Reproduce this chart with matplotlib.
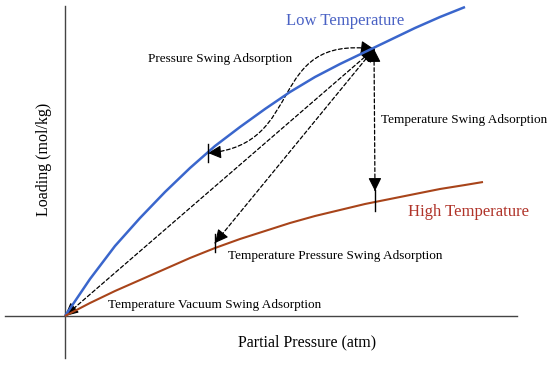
import matplotlib
matplotlib.use("Agg")
import numpy as np
import matplotlib.pyplot as plt
from matplotlib.patches import FancyArrowPatch
from matplotlib.path import Path

# ---- data (schematic isotherms) ----
low_x = [0, 25, 50, 75, 100, 125, 150, 175, 200, 225, 250, 275, 300, 325, 350, 375, 400]
low_y = [0, 37, 70, 98, 124, 148, 170, 189, 207, 224, 239, 252, 264, 276, 288, 299, 309]
high_x = [0, 25, 50, 75, 100, 125, 150, 175, 200, 225, 250, 275, 300, 325, 350, 375, 400, 418]
high_y = [0, 13, 25, 36, 47, 58, 68, 77, 85, 93, 100, 106, 112, 117, 122, 127, 131, 134]

# key states
A = (309, 267)   # low T, high P (adsorption)
B = (143, 163)   # PSA regeneration
C = (150, 73)    # TPSA regeneration
D = (310, 125)   # TSA regeneration
O = (0, 0)       # TVSA regeneration

labels = {
    "low": "Low Temperature",
    "high": "High Temperature",
    "psa": "Pressure Swing Adsorption",
    "tsa": "Temperature Swing Adsorption",
    "tpsa": "Temperature Pressure Swing Adsorption",
    "tvsa": "Temperature Vacuum Swing Adsorption",
    "x": "Partial Pressure (atm)",
    "y": "Loading (mol/kg)",
}

plt.rcParams['font.family'] = ['Liberation Serif', 'DejaVu Serif']

fig = plt.figure(figsize=(5.5, 3.72), dpi=100)
ax = fig.add_axes([0, 0, 1, 1])
ax.set_xlim(-65, 485)
ax.set_ylim(-56, 316)
ax.axis('off')

# axes lines
ax.plot([0, 0], [-42, 310], color='#444444', lw=1.0)
ax.plot([-60, 452], [0, 0], color='#444444', lw=1.0)

# isotherms
ax.plot(low_x, low_y, color='#3a66cc', lw=1.8, solid_capstyle='butt', solid_joinstyle='round')
ax.plot(high_x, high_y, color='#a8441a', lw=1.5, solid_capstyle='butt', solid_joinstyle='round')

# ticks at regeneration points
for (px, py) in [B, C]:
    ax.plot([px, px], [py - 9, py + 9], color='black', lw=1.0)
ax.plot([D[0], D[0]], [D[1] - 20, D[1] + 1], color='black', lw=1.0)

line_kw = dict(arrowstyle='-', color='black', lw=0.9,
               linestyle=(0, (3, 2)), shrinkA=0, shrinkB=0)
head_kw = dict(arrowstyle='-|>', color='black', lw=0.8,
               mutation_scale=20, shrinkA=0, shrinkB=0)


def head(tip, frm):
    tip = np.asarray(tip, float)
    frm = np.asarray(frm, float)
    d = (tip - frm) / np.hypot(*(tip - frm))
    ax.add_patch(FancyArrowPatch(tuple(tip - 0.5 * d), tuple(tip), **head_kw))


# straight dashed double arrows
for tgt in [O, C, D]:
    ax.add_patch(FancyArrowPatch(A, tgt, **line_kw))
    head(tgt, A)
    head(A, tgt)

# curved PSA double arrow
P1 = (B[0] + 100, B[1] + 8)
P2 = (A[0] - 110, A[1] + 14)
verts = [B, P1, P2, A]
codes = [Path.MOVETO, Path.CURVE4, Path.CURVE4, Path.CURVE4]
ax.add_patch(FancyArrowPatch(path=Path(verts, codes), **line_kw))
head(B, P1)
head(A, P2)

# texts
ax.text(280, 295, labels["low"], color='#4a62c4', fontsize=12, ha='center', va='center')
ax.text(403, 104, labels["high"], color='#b0342a', fontsize=12, ha='center', va='center')
ax.text(155, 257, labels["psa"], fontsize=9.5, ha='center', va='center')
ax.text(399, 196, labels["tsa"], fontsize=9.5, ha='center', va='center')
ax.text(163, 60, labels["tpsa"], fontsize=9.5, ha='left', va='center')
ax.text(43, 11, labels["tvsa"], fontsize=9.5, ha='left', va='center')
ax.text(242, -26, labels["x"], fontsize=11.5, ha='center', va='center')
ax.text(-21, 157, labels["y"], fontsize=11.5, ha='center', va='center', rotation=90)

fig.savefig('out.png', dpi=100)
